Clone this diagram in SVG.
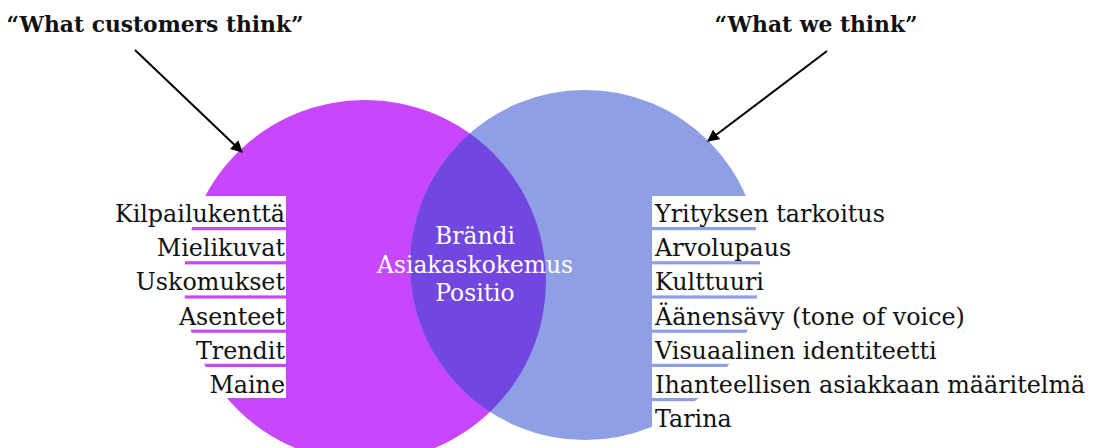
<svg xmlns="http://www.w3.org/2000/svg" width="1095" height="448" viewBox="0 0 1095 448">
<style>
.lbl{font-family:"DejaVu Serif","Liberation Serif",serif;font-size:23.8px;fill:#111}
.ctr{font-family:"DejaVu Serif","Liberation Serif",serif;font-size:23.4px;fill:#fff;text-anchor:middle}
.ttl{font-family:"DejaVu Serif","Liberation Serif",serif;font-size:21.8px;font-weight:bold;fill:#111;text-anchor:middle}
.bg{fill:#fff}
.arr{stroke:#000;stroke-width:2;fill:none;marker-end:url(#ah)}
</style>
<defs>
<marker id="ah" viewBox="0 0 10 10" refX="9" refY="5" markerWidth="6" markerHeight="6" orient="auto" markerUnits="strokeWidth">
<path d="M0,0 L10,5 L0,10 z" fill="#000"/>
</marker>
<clipPath id="leftClip"><circle cx="365" cy="281" r="181"/></clipPath>
</defs>
<rect width="1095" height="448" fill="#fff"/>
<g id="circle-customers"><circle cx="365" cy="281" r="181" fill="#C846FC"/></g>
<g id="circle-we"><circle cx="585" cy="265" r="175" fill="#8E9FE5"/></g>
<g id="overlap"><circle cx="585" cy="265" r="175" fill="#7247E0" clip-path="url(#leftClip)"/>
<text class="ctr" x="475" y="244">Brändi</text>
<text class="ctr" x="475" y="273">Asiakaskokemus</text>
<text class="ctr" x="475" y="301">Positio</text>
</g>
<g id="left-labels">
<rect class="bg" x="100" y="196" width="186" height="31"/>
<rect class="bg" x="100" y="230.2" width="186" height="31"/>
<rect class="bg" x="100" y="264.4" width="186" height="31"/>
<rect class="bg" x="100" y="298.6" width="186" height="31"/>
<rect class="bg" x="100" y="332.8" width="186" height="31"/>
<rect class="bg" x="100" y="367" width="186" height="31"/>
<text class="lbl" text-anchor="end" x="285" y="222">Kilpailukenttä</text>
<text class="lbl" text-anchor="end" x="285" y="256.2">Mielikuvat</text>
<text class="lbl" text-anchor="end" x="285" y="290.4">Uskomukset</text>
<text class="lbl" text-anchor="end" x="285" y="324.6">Asenteet</text>
<text class="lbl" text-anchor="end" x="285" y="358.8">Trendit</text>
<text class="lbl" text-anchor="end" x="285" y="393">Maine</text>
</g>
<g id="right-labels">
<rect class="bg" x="652" y="196" width="443" height="31"/>
<rect class="bg" x="652" y="230.2" width="443" height="31"/>
<rect class="bg" x="652" y="264.4" width="443" height="31"/>
<rect class="bg" x="652" y="298.6" width="443" height="31"/>
<rect class="bg" x="652" y="332.8" width="443" height="31"/>
<rect class="bg" x="652" y="367" width="443" height="31"/>
<rect class="bg" x="652" y="401.2" width="443" height="35"/>
<text class="lbl" x="655" y="222">Yrityksen tarkoitus</text>
<text class="lbl" x="655" y="256.2">Arvolupaus</text>
<text class="lbl" x="655" y="290.4">Kulttuuri</text>
<text class="lbl" x="655" y="324.6">Äänensävy (tone of voice)</text>
<text class="lbl" x="655" y="358.8">Visuaalinen identiteetti</text>
<text class="lbl" x="655" y="393">Ihanteellisen asiakkaan määritelmä</text>
<text class="lbl" x="655" y="427.2">Tarina</text>
</g>
<g id="title-customers"><text class="ttl" x="155" y="32">“What customers think”</text></g>
<g id="title-we"><text class="ttl" x="816" y="32">“What we think”</text></g>
<g id="connectors">
<line class="arr" x1="135" y1="50" x2="242" y2="152"/>
<line class="arr" x1="827" y1="51" x2="708" y2="141"/>
</g>
</svg>
